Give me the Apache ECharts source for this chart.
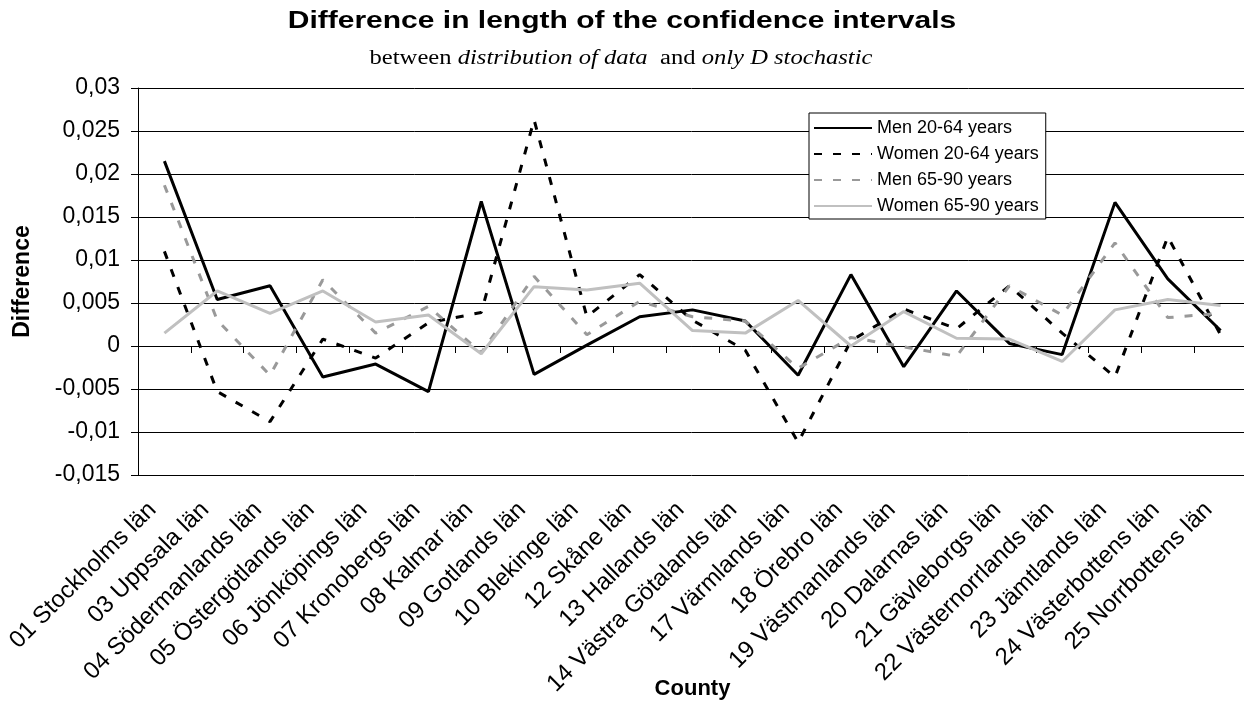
<!DOCTYPE html>
<html>
<head>
<meta charset="utf-8">
<script src="https://cdn.jsdelivr.net/npm/echarts@6/dist/echarts.min.js"></script>
<style>
html,body{margin:0;padding:0;background:#fff;}
#chart{width:1244px;height:702px;}
</style>
</head>
<body>
<div id="chart"></div>
<script>
var categories = ["01 Stockholms län","03 Uppsala län","04 Södermanlands län","05 Östergötlands län","06 Jönköpings län","07 Kronobergs län","08 Kalmar län","09 Gotlands län","10 Blekinge län","12 Skåne län","13 Hallands län","14 Västra Götalands län","17 Värmlands län","18 Örebro län","19 Västmanlands län","20 Dalarnas län","21 Gävleborgs län","22 Västernorrlands län","23 Jämtlands län","24 Västerbottens län","25 Norrbottens län"];
var men2064   = [0.0215, 0.0054, 0.0070, -0.0036, -0.0021, -0.0053, 0.0168, -0.0033, 0.0001, 0.0034, 0.0042, 0.0029, -0.0034, 0.0083, -0.0024, 0.0064, 0.0003, -0.0010, 0.0167, 0.0078, 0.0018];
var women2064 = [0.0110, -0.0053, -0.0088, 0.0008, -0.0014, 0.0027, 0.0039, 0.0263, 0.0034, 0.0083, 0.0030, -0.0005, -0.0112, 0.0006, 0.0043, 0.0020, 0.0070, 0.0015, -0.0036, 0.0127, 0.0013];
var men6590   = [0.0187, 0.0030, -0.0034, 0.0077, 0.0015, 0.0046, -0.0008, 0.0081, 0.0013, 0.0052, 0.0034, 0.0029, -0.0026, 0.0010, -0.0001, -0.0012, 0.0070, 0.0036, 0.0120, 0.0033, 0.0038];
var women6590 = [0.0015, 0.0064, 0.0038, 0.0064, 0.0028, 0.0036, -0.0009, 0.0069, 0.0065, 0.0073, 0.0018, 0.0015, 0.0053, 0.0000, 0.0040, 0.0009, 0.0008, -0.0018, 0.0042, 0.0054, 0.0047];
var seriesNames = ["Men 20-64 years","Women 20-64 years","Men 65-90 years","Women 65-90 years"];
var yMin = -0.015, yMax = 0.03, yStep = 0.005;
var titleText = 'Difference in length of the confidence intervals';
var subtitleText = '{n|between }{i|distribution of data}{n|  and }{i|only D stochastic}';

var FONT = "'Liberation Sans', Arial, sans-serif";
var SERIF = "'Liberation Serif', 'Times New Roman', serif";
var chart = echarts.init(document.getElementById('chart'), null, {renderer:'canvas'});
function mk(name, data, color, type){
  return {name:name, type:'line', data:data, symbol:'none', showSymbol:false, smooth:false,
    lineStyle:{color:color, width:3, type:type}, itemStyle:{color:color}, emphasis:{disabled:true}};
}
chart.setOption({
  backgroundColor:'#fff',
  animation:false,
  graphic:[
    {type:'text', x:622, y:9, scaleX:1.25, silent:true,
     style:{text:titleText, font:"bold 24px 'Liberation Sans', Arial, sans-serif", fill:'#000',
            textAlign:'center', textVerticalAlign:'top', align:'center', verticalAlign:'top'}},
    {type:'text', x:621, y:49, scaleX:1.23, silent:true,
     style:{text:subtitleText, fill:'#000', fontFamily:SERIF, fontSize:20,
            textAlign:'center', textVerticalAlign:'top', align:'center', verticalAlign:'top',
            rich:{n:{fontFamily:SERIF, fontSize:20, fontWeight:'normal', fill:'#000', color:'#000'},
                  i:{fontFamily:SERIF, fontSize:20, fontWeight:'normal', fontStyle:'italic', fill:'#000', color:'#000'}}}}
  ],
  legend:{
    orient:'vertical', left:809, top:113, data:seriesNames,
    itemWidth:58, itemHeight:14, itemGap:8,
    padding:[6,7,4,4], backgroundColor:'#fff', borderColor:'#000', borderWidth:1,
    itemStyle:{opacity:0},
    textStyle:{fontFamily:FONT, fontSize:18, color:'#000'},
    selectedMode:false
  },
  grid:{left:138, top:88, width:1109, height:387, outerBoundsMode:'none', containLabel:false},
  xAxis:{
    type:'category', data:categories, boundaryGap:true,
    axisLine:{lineStyle:{color:'#000', width:1}},
    axisTick:{show:true, length:7, lineStyle:{color:'#000'}, alignWithLabel:false},
    axisLabel:{rotate:45, interval:0, margin:19, padding:[0,17,0,0], fontFamily:FONT, fontSize:24, color:'#000'},
    name:'County', nameLocation:'middle', nameGap:203, nameMoveOverlap:false,
    nameTextStyle:{fontFamily:FONT, fontWeight:'bold', fontSize:22, color:'#000'}
  },
  yAxis:{
    type:'value', min:yMin, max:yMax, interval:yStep,
    axisLine:{show:true, lineStyle:{color:'#000', width:1}},
    axisTick:{show:true, length:7, lineStyle:{color:'#000'}},
    splitLine:{show:true, lineStyle:{color:'#000', width:1}},
    axisLabel:{margin:18, fontFamily:FONT, fontSize:23, color:'#000',
      formatter:function(v){ return String(+v.toFixed(4)).replace('.', ','); }},
    name:'Difference', nameLocation:'middle', nameGap:104, nameRotate:90, nameMoveOverlap:false,
    nameTextStyle:{fontFamily:FONT, fontWeight:'bold', fontSize:23, color:'#000'}
  },
  series:[
    mk(seriesNames[0], men2064, '#000000', 'solid'),
    mk(seriesNames[1], women2064, '#000000', [8,11]),
    mk(seriesNames[2], men6590, '#999999', [8,11]),
    mk(seriesNames[3], women6590, '#c0c0c0', 'solid')
  ]
});
</script>
</body>
</html>
